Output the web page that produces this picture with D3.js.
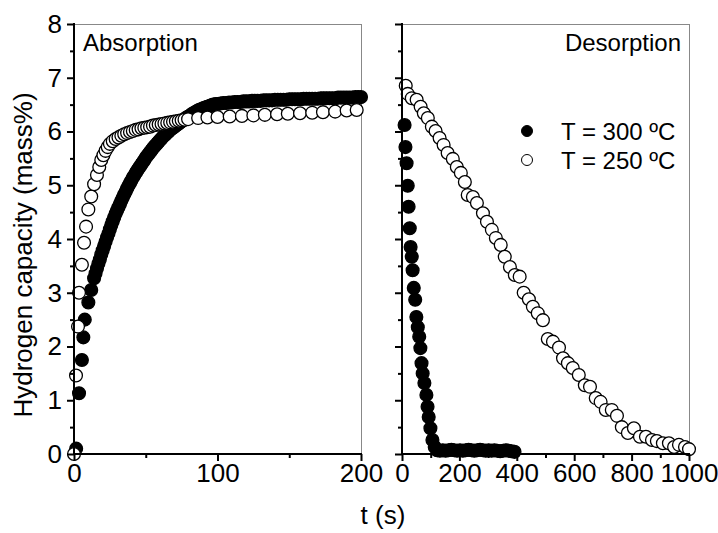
<!DOCTYPE html>
<html>
<head>
<meta charset="utf-8">
<script src="https://cdn.jsdelivr.net/npm/d3@7"></script>
<style>
  body { margin: 0; background: #fff; }
  svg text { font-family: 'Liberation Sans', Arial, sans-serif; fill: #000; }
</style>
</head>
<body>
<svg id="canvas" width="718" height="533"></svg>
<script>
// absorption, T = 300 C (filled) : [t (s), capacity (mass%)]
var abs300 = [
  [1.5, 0.10], [3.5, 1.13], [5.5, 1.75], [6.5, 2.17], [7.5, 2.50], [10, 2.82], [12, 3.05], [14, 3.27],
  [15, 3.36], [16, 3.45], [17, 3.54], [18, 3.62], [19, 3.71], [20, 3.79], [21, 3.87], [22, 3.95],
  [23, 4.03], [24, 4.10], [25, 4.18], [26, 4.26], [27, 4.33], [28, 4.40], [29, 4.47], [30, 4.53],
  [31, 4.59], [32, 4.65], [33, 4.71], [34, 4.77], [35, 4.83], [36, 4.88], [37, 4.94], [38, 4.99],
  [39, 5.04], [40, 5.09], [41, 5.14], [42, 5.18], [43, 5.23], [44, 5.27], [45, 5.31], [46, 5.35],
  [47, 5.39], [48, 5.43], [49, 5.47], [50, 5.51], [51, 5.55], [52, 5.58], [53, 5.62], [54, 5.65],
  [55, 5.69], [56, 5.72], [57, 5.75], [58, 5.78], [59, 5.81], [60, 5.84], [61, 5.87], [62, 5.90],
  [63, 5.93], [64, 5.95], [65, 5.98], [66, 6.00], [67, 6.03], [68, 6.05], [69, 6.07], [70, 6.09],
  [71, 6.11], [72, 6.13], [73, 6.15], [74, 6.17], [75, 6.19], [76, 6.21], [77, 6.23], [78, 6.25],
  [79, 6.27], [80, 6.28], [81, 6.30], [82, 6.32], [83, 6.34], [84, 6.35], [85, 6.37], [86, 6.38],
  [87, 6.40], [88, 6.41], [89, 6.42], [90, 6.43], [91, 6.44], [92, 6.45], [93, 6.46], [94, 6.47],
  [95, 6.48], [96, 6.49], [97, 6.50], [98, 6.50], [99, 6.51], [100, 6.51], [102, 6.52], [104, 6.53],
  [106, 6.53], [108, 6.54], [110, 6.54],
  [112, 6.55], [114, 6.55], [116, 6.55], [118, 6.56], [120, 6.56], [122, 6.56], [124, 6.57], [126, 6.57],
  [128, 6.57], [130, 6.57], [132, 6.58], [134, 6.58], [136, 6.58], [138, 6.58], [140, 6.59], [142, 6.59],
  [144, 6.59], [146, 6.59], [148, 6.59], [150, 6.60], [152, 6.60], [154, 6.60], [156, 6.60], [158, 6.60],
  [160, 6.61], [162, 6.61], [164, 6.61], [166, 6.61], [168, 6.61], [170, 6.61], [172, 6.62], [174, 6.62],
  [176, 6.62], [178, 6.62], [180, 6.62], [182, 6.62], [184, 6.63], [186, 6.63], [188, 6.63], [190, 6.63],
  [192, 6.63], [194, 6.63], [196, 6.64], [198, 6.64], [200, 6.64]
]

// absorption, T = 250 C (open)
var abs250 = [
  [0, 0.00], [1.4, 1.46], [2.8, 2.37], [3.5, 3.00], [5.5, 3.52], [7, 3.93], [8.4, 4.23], [10, 4.55],
  [12, 4.79], [14, 5.02], [16, 5.19], [17.6, 5.34], [19, 5.47], [20.5, 5.56], [22, 5.64], [23.5, 5.71],
  [25, 5.77], [27, 5.82], [29, 5.86], [31, 5.89], [33, 5.92], [35, 5.95], [37, 5.97], [39, 5.99],
  [41, 6.01], [43, 6.03], [45, 6.04], [47, 6.06], [49, 6.07], [51, 6.08], [53, 6.09], [55, 6.11],
  [57, 6.12], [59, 6.13], [61, 6.14], [63, 6.15], [65, 6.16], [67, 6.17], [69, 6.18], [71, 6.19],
  [73, 6.20], [75, 6.21], [77, 6.22], [79.5, 6.23], [86.5, 6.25], [93, 6.26], [100, 6.27], [108.5, 6.28],
  [117, 6.29], [125, 6.30], [133, 6.31], [141.5, 6.32], [149, 6.33], [157.5, 6.34], [166, 6.35],
  [173.5, 6.36], [182, 6.37], [190, 6.39], [197, 6.40]
]

// desorption, T = 300 C (filled)
var des300 = [
  [9, 6.12], [12, 5.71], [16, 5.41], [20, 4.99], [23, 4.60], [27, 4.20], [30, 3.85], [34, 3.67],
  [37, 3.42], [41, 3.09], [46, 2.87], [50, 2.55], [55, 2.36], [60, 2.18], [64, 1.97], [68, 1.69],
  [72, 1.50], [78, 1.32], [85, 1.10], [89, 0.88], [93, 0.69], [99, 0.48], [106, 0.26], [114, 0.13],
  [122, 0.07], [132, 0.06], [142, 0.07], [152, 0.06], [162, 0.07], [172, 0.08], [182, 0.07], [192, 0.06],
  [202, 0.07], [212, 0.06], [222, 0.07], [232, 0.08], [242, 0.07], [252, 0.06], [262, 0.07], [272, 0.08],
  [282, 0.07], [292, 0.06], [302, 0.07], [312, 0.06], [322, 0.07], [332, 0.06], [342, 0.05], [352, 0.06],
  [362, 0.07], [372, 0.06], [382, 0.05], [392, 0.04]
]

// desorption, T = 250 C (open)
var des250 = [
  [13, 6.85], [20, 6.70], [34, 6.62], [51, 6.59], [65, 6.46], [76, 6.34], [90, 6.25], [104, 6.09],
  [117, 6.01], [131, 5.88], [145, 5.75], [159, 5.60], [177, 5.49], [191, 5.34], [205, 5.23], [219, 5.06],
  [229, 4.82], [247, 4.78], [261, 4.67], [282, 4.48], [296, 4.32], [313, 4.17], [327, 4.02], [344, 3.89],
  [358, 3.67], [376, 3.48], [393, 3.33], [410, 3.30], [424, 3.00], [442, 2.88], [456, 2.74], [473, 2.62],
  [491, 2.49], [508, 2.14], [526, 2.09], [547, 1.98], [561, 1.78], [578, 1.69], [595, 1.60], [616, 1.47],
  [637, 1.28], [655, 1.25], [675, 1.04], [692, 0.97], [710, 0.82], [731, 0.82], [749, 0.71], [766, 0.50],
  [787, 0.39], [808, 0.48], [829, 0.32], [850, 0.32], [871, 0.26], [888, 0.24], [909, 0.20], [930, 0.20],
  [948, 0.13], [965, 0.17], [986, 0.13], [1000, 0.09]
]

var yMajor = [0, 1, 2, 3, 4, 5, 6, 7, 8]
var yMinor = [0.5, 1.5, 2.5, 3.5, 4.5, 5.5, 6.5, 7.5]
var absMajor = [0, 100, 200]
var absMinor = [50, 150]
var desMajor = [0, 200, 400, 600, 800, 1000]
var desMinor = [100, 300, 500, 700, 900]
var legendLabels = ['T = 300 ºC', 'T = 250 ºC']

var svg = d3.select('#canvas')
var plotTop = 24
var plotBottom = 454

var y = d3.scaleLinear().domain([0, 8]).range([plotBottom, plotTop])
var xAbs = d3.scaleLinear().domain([0, 200]).range([74, 361])
var xDes = d3.scaleLinear().domain([0, 1000]).range([402, 689])

function frame (x) {
  var x0 = x.range()[0]
  var x1 = x.range()[1]
  svg.append('line').attr('x1', x0).attr('x2', x1).attr('y1', plotTop + 0.5).attr('y2', plotTop + 0.5)
    .attr('stroke', '#888').attr('stroke-width', 1)
  svg.append('line').attr('x1', x1 + 0.5).attr('x2', x1 + 0.5).attr('y1', plotTop).attr('y2', plotBottom)
    .attr('stroke', '#888').attr('stroke-width', 1)
}

function axes (x, major, minor, showY) {
  var x0 = x.range()[0]
  var gyMin = svg.append('g').attr('transform', 'translate(' + x0 + ',0)')
    .call(d3.axisLeft(y).tickValues(yMinor).tickSize(4).tickFormat(''))
  var gy = svg.append('g').attr('transform', 'translate(' + x0 + ',0)')
    .call(d3.axisLeft(y).tickValues(yMajor).tickSize(7).tickPadding(5)
      .tickFormat(showY ? d3.format('d') : ''))
  var gxMin = svg.append('g').attr('transform', 'translate(0,' + plotBottom + ')')
    .call(d3.axisBottom(x).tickValues(minor).tickSize(4).tickFormat(''))
  var gx = svg.append('g').attr('transform', 'translate(0,' + plotBottom + ')')
    .call(d3.axisBottom(x).tickValues(major).tickSize(7).tickPadding(3).tickFormat(d3.format('d')))
  ;[gyMin, gy, gxMin, gx].forEach(function (g) {
    g.select('.domain').remove()
    g.selectAll('.tick line').attr('stroke', '#000').attr('stroke-width', 2)
    g.selectAll('text').style('font-size', '26px').attr('fill', '#000')
  })
  svg.append('line').attr('x1', x0).attr('x2', x0).attr('y1', plotTop - 1).attr('y2', plotBottom + 1)
    .attr('stroke', '#000').attr('stroke-width', 2)
  svg.append('line').attr('x1', x0 - 1).attr('x2', x.range()[1] + 1).attr('y1', plotBottom).attr('y2', plotBottom)
    .attr('stroke', '#000').attr('stroke-width', 2)
}

function dots (data, x, filled) {
  svg.append('g').selectAll('circle').data(data).enter().append('circle')
    .attr('cx', function (d) { return x(d[0]) })
    .attr('cy', function (d) { return y(d[1]) })
    .attr('r', 6.4)
    .attr('fill', filled ? '#000' : '#fff')
    .attr('stroke', '#000')
    .attr('stroke-width', 1.3)
}

frame(xAbs)
frame(xDes)

dots(abs300, xAbs, true)
dots(abs250, xAbs, false)
dots(des300, xDes, true)
dots(des250, xDes, false)

axes(xAbs, absMajor, absMinor, true)
axes(xDes, desMajor, desMinor, false)

svg.append('text').attr('x', 83).attr('y', 51).style('font-size', '24px').text('Absorption')
svg.append('text').attr('x', 681).attr('y', 51).attr('text-anchor', 'end')
  .style('font-size', '24px').text('Desorption')

// legend
legendLabels.forEach(function (label, i) {
  var ly = 131 + i * 29
  svg.append('circle').attr('cx', 527).attr('cy', ly).attr('r', 5.5)
    .attr('fill', i === 0 ? '#000' : '#fff').attr('stroke', '#000').attr('stroke-width', 1)
  svg.append('text').attr('x', 561).attr('y', ly + 8.5).style('font-size', '24px').text(label)
})

svg.append('text').attr('x', 383).attr('y', 524).attr('text-anchor', 'middle')
  .style('font-size', '26px').text('t (s)')
svg.append('text').attr('transform', 'translate(32,255) rotate(-90)').attr('text-anchor', 'middle')
  .style('font-size', '26px').text('Hydrogen capacity (mass%)')
</script>
</body>
</html>
